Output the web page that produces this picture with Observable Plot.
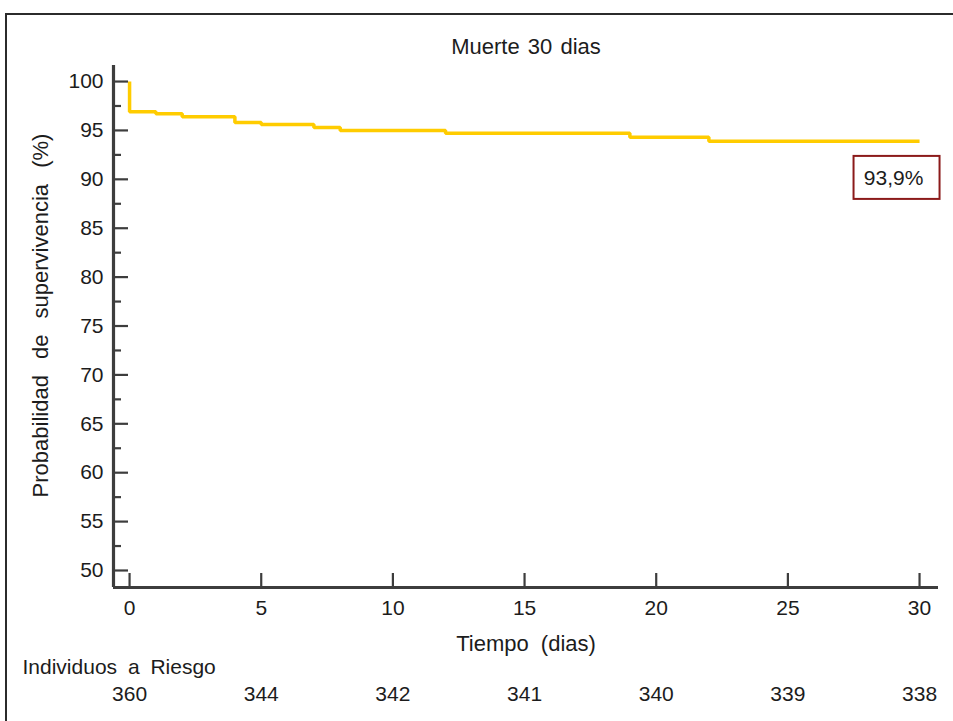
<!DOCTYPE html>
<html><head><meta charset="utf-8">
<script src="https://cdn.jsdelivr.net/npm/d3@7"></script>
<script src="https://cdn.jsdelivr.net/npm/@observablehq/plot@0.6"></script>
<style>
html,body{margin:0;padding:0;background:#fff;overflow:hidden;}
#wrap{position:relative;width:953px;height:721px;overflow:hidden;}
#frame{position:absolute;left:5px;top:13px;width:1000px;height:800px;border:2px solid #2b2b2b;box-sizing:border-box;pointer-events:none;}
#chart{position:absolute;left:0;top:0;}
.ws-title text{word-spacing:2px;}
.ws-x text{word-spacing:6px;}
.ws-y text{word-spacing:10px;}
.ws-risk text{word-spacing:5px;}
</style></head><body>
<div id="wrap"><div id="frame"></div><div id="chart"></div></div>
<script>
// ---- data ----
const titleText = "Muerte 30 dias";
const xLabelText = "Tiempo (dias)";
const yLabelText = "Probabilidad de supervivencia (%)";
const riskTitle = "Individuos a Riesgo";
const times = [0, 0, 1, 2, 4, 5, 7, 8, 12, 19, 22, 30];
const survival = [100, 96.9, 96.7, 96.4, 95.8, 95.6, 95.3, 95.0, 94.7, 94.3, 93.9, 93.9];
const xTicks = [0, 5, 10, 15, 20, 25, 30];
const yTicks = [50, 55, 60, 65, 70, 75, 80, 85, 90, 95, 100];
const yMinorTicks = [52.5, 57.5, 62.5, 67.5, 72.5, 77.5, 82.5, 87.5, 92.5, 97.5];
const riskTimes = [0, 5, 10, 15, 20, 25, 30];
const riskCounts = [360, 344, 342, 341, 340, 339, 338];
const finalLabel = "93,9%";

// ---- layout ----
const W = 953, H = 721, mL = 113, mR = 15, mT = 65, mB = 134;
const pw = W - mL - mR, ph = H - mT - mB;
const xDomain = [-0.61, 30.72];
const yDomain = [48.26, 101.64];
const axisColor = "#3d3d3d";
const textColor = "#1c1c1c";
const fs = 21;
const curve = times.map((t, i) => ({t, s: survival[i]}));
const last = curve[curve.length - 1];
const risk = riskTimes.map((t, i) => ({t, n: riskCounts[i]}));

const plot = Plot.plot({
  width: W, height: H,
  marginLeft: mL, marginRight: mR, marginTop: mT, marginBottom: mB,
  style: {fontFamily: "'Liberation Sans', Arial, sans-serif", fontSize: fs + "px", color: textColor, background: "transparent", overflow: "visible"},
  x: {domain: xDomain},
  y: {domain: yDomain},
  marks: [
    Plot.axisX({ticks: xTicks, tickSize: 0, tickPadding: 13, label: null, fontSize: fs, tickFormat: d => String(d)}),
    Plot.axisY({ticks: yTicks, tickSize: 0, tickPadding: 10, label: null, fontSize: fs, tickFormat: d => String(d)}),
    Plot.line(curve, {x: "t", y: "s", curve: "step-after", stroke: "#FFCC00", strokeWidth: 3.5, strokeLinejoin: "miter", strokeLinecap: "butt"}),
    Plot.tickY(yTicks, {y: d => d, insetRight: pw - 15, stroke: axisColor, strokeWidth: 2.2}),
    Plot.tickY(yMinorTicks, {y: d => d, insetRight: pw - 8, stroke: axisColor, strokeWidth: 2.2}),
    Plot.tickX(xTicks, {x: d => d, insetTop: ph - 14, stroke: axisColor, strokeWidth: 2.2}),
    Plot.ruleX([xDomain[0]], {stroke: axisColor, strokeWidth: 3.2}),
    Plot.ruleY([yDomain[0]], {stroke: axisColor, strokeWidth: 3.2}),
    Plot.text([titleText], {text: d => d, frameAnchor: "top", lineAnchor: "middle", dy: -19, fontSize: 22, fill: textColor, className: "ws-title"}),
    Plot.text([xLabelText], {text: d => d, frameAnchor: "bottom", lineAnchor: "middle", dy: 56, fontSize: 22, fill: textColor, className: "ws-x"}),
    Plot.text([yLabelText], {text: d => d, frameAnchor: "left", textAnchor: "middle", lineAnchor: "middle", rotate: -90, dx: -73, dy: -11, fontSize: 22, fill: textColor, className: "ws-y"}),
    Plot.text([riskTitle], {text: d => d, frameAnchor: "bottom-left", textAnchor: "start", lineAnchor: "middle", dx: -91, dy: 80, fontSize: fs, fill: textColor, className: "ws-risk"}),
    Plot.text(risk, {x: "t", text: d => String(d.n), frameAnchor: "bottom", lineAnchor: "middle", dy: 107, fontSize: fs, fill: textColor}),
    Plot.text([last], {x: "t", y: "s", text: () => finalLabel, dx: -26, dy: 37, fontSize: fs, fill: textColor, className: "final-label"})
  ]
});
document.getElementById("chart").appendChild(plot);

// box around the final survival label
const lbl = plot.querySelector(".final-label text");
if (lbl) {
  const bb = lbl.getBBox();
  const g = lbl.parentNode;
  const rect = document.createElementNS("http://www.w3.org/2000/svg", "rect");
  const cx = bb.x + bb.width / 2 + 3, cy = bb.y + bb.height / 2;
  rect.setAttribute("x", cx - 43);
  rect.setAttribute("y", cy - 21.5);
  rect.setAttribute("width", 86);
  rect.setAttribute("height", 43);
  rect.setAttribute("fill", "#fff");
  rect.setAttribute("stroke", "#8B1A1A");
  rect.setAttribute("stroke-width", 2);
  const tr = lbl.getAttribute("transform");
  if (tr) rect.setAttribute("transform", tr);
  g.insertBefore(rect, lbl);
}
</script>
</body></html>
